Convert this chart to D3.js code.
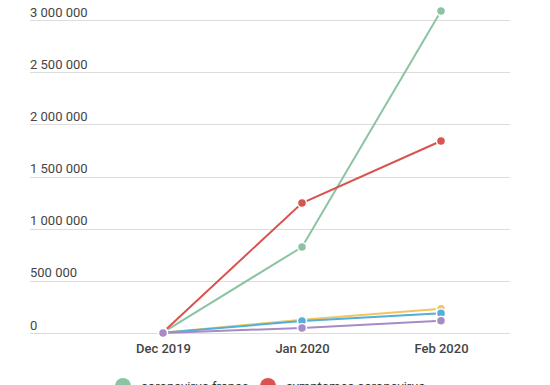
<!DOCTYPE html>
<html>
<head>
<meta charset="utf-8">
<script src="https://cdn.jsdelivr.net/npm/d3@7"></script>
<style>
  body { margin: 0; background: #fff; }
  svg { display: block; font-family: Roboto, "Noto Sans", sans-serif; }
</style>
</head>
<body>
<div id="chart"></div>
<script>
var months = ["Dec 2019", "Jan 2020", "Feb 2020"];
var seriesNames = ["coronavirus france", "symptomes coronavirus", "coronavirus chine", "coronavirus italie", "masque coronavirus"];
var seriesColors = ["#8cc4a3", "#d9534f", "#f0c75e", "#52aedb", "#a78bc7"];
var franceVals = [6000, 824000, 3086000];
var symptomesVals = [8000, 1246000, 1840000];
var chineVals = [2000, 128000, 232000];
var italieVals = [1500, 115000, 190000];
var masqueVals = [1000, 48000, 118000];
var yTicks = [0, 500000, 1000000, 1500000, 2000000, 2500000, 3000000];

var allVals = [franceVals, symptomesVals, chineVals, italieVals, masqueVals];

var width = 550,
  height = 385;

var svg = d3.select("#chart").append("svg")
  .attr("width", width)
  .attr("height", height);

var x = d3.scalePoint()
  .domain(months)
  .range([163, 441]);

var y = d3.scaleLinear()
  .domain([0, 3000000])
  .range([333, 20]);

var fmt = function(d){
  return d3.format(",")(d).replace(/,/g, " ");
};

// GRID + Y LABELS
var grid = svg.append("g");
grid.selectAll("line")
  .data(yTicks).enter()
  .append("line")
  .attr("x1", 30)
  .attr("x2", 510)
  .attr("y1", function(d){ return Math.round(y(d)) + 0.5; })
  .attr("y2", function(d){ return Math.round(y(d)) + 0.5; })
  .attr("stroke", "#dcdcdc")
  .attr("stroke-width", 1);

grid.selectAll("text")
  .data(yTicks).enter()
  .append("text")
  .text(fmt)
  .attr("x", 30)
  .attr("y", function(d){ return y(d) - 3.5; })
  .attr("font-size", "13px")
  .attr("fill", "#444");

// X LABELS
var xAxis = svg.append("g")
  .attr("transform", "translate(0,333)")
  .call(d3.axisBottom(x).tickSize(0).tickPadding(8));
xAxis.select(".domain").remove();
xAxis.selectAll("text")
  .attr("font-size", "13px")
  .attr("font-weight", 500)
  .attr("font-family", "Roboto, sans-serif")
  .attr("fill", "#444")
  .attr("dy", "0.9em");

// LINES
var line = d3.line()
  .x(function(d, i){ return x(months[i]); })
  .y(function(d){ return y(d); });

var series = svg.selectAll(".series")
  .data(allVals).enter()
  .append("g")
  .attr("class", "series");

series.append("path")
  .attr("d", line)
  .attr("fill", "none")
  .attr("stroke", function(d, i){ return seriesColors[i]; })
  .attr("stroke-width", 2);

series.each(function(vals, i){
  d3.select(this).selectAll("circle")
    .data(vals).enter()
    .append("circle")
    .attr("cx", function(d, j){ return x(months[j]); })
    .attr("cy", function(d){ return y(d); })
    .attr("r", 4.5)
    .attr("fill", seriesColors[i])
    .attr("stroke", "#fff")
    .attr("stroke-width", 1.5);
});

// LEGEND (wraps below the visible area, like the original)
var legendPos = [[123, 386], [268, 386], [123, 410], [268, 410], [123, 434]];
var legend = svg.selectAll(".legend")
  .data(seriesNames).enter()
  .append("g")
  .attr("class", "legend")
  .attr("transform", function(d, i){
    return "translate(" + legendPos[i][0] + "," + legendPos[i][1] + ")";
  });

legend.append("circle")
  .attr("r", 8)
  .attr("fill", function(d, i){ return seriesColors[i]; });

legend.append("text")
  .text(function(d){ return d; })
  .attr("x", 18)
  .attr("y", 5)
  .attr("font-size", "13px")
  .attr("fill", "#333");
</script>
</body>
</html>
